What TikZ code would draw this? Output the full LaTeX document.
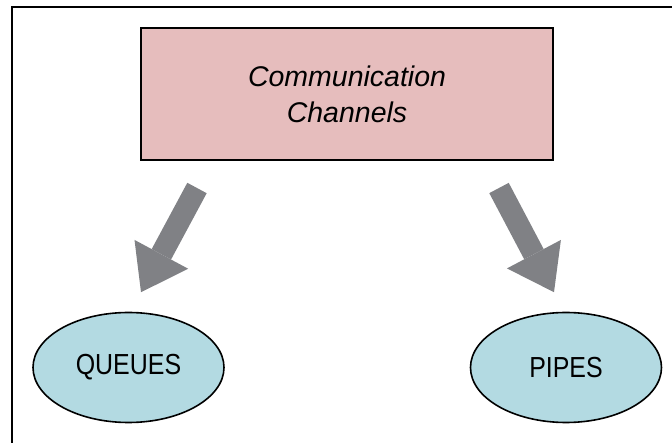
\documentclass[tikz,border=0pt]{standalone}
\usepackage{fontspec}
\setmainfont{Liberation Sans}
\newfontfamily\narrowsans[FakeStretch=0.86]{Liberation Sans}
\usetikzlibrary{arrows.meta,positioning,calc,shapes.geometric}
\definecolor{chanpink}{RGB}{230,189,189}
\definecolor{kindblue}{RGB}{179,218,226}
\definecolor{arrowgray}{RGB}{128,129,133}

\begin{document}
\begin{tikzpicture}[
    topic/.style={draw, line width=2pt, fill=chanpink, minimum width=412pt, minimum height=132pt,
        align=center, font=\fontsize{28.5}{36}\selectfont\itshape},
    kind/.style={draw, ellipse, line width=1.6pt, fill=kindblue, minimum width=191pt,
        minimum height=110pt, inner sep=0pt, font=\narrowsans\fontsize{29}{32}\selectfont},
    fatarrow/.style={arrowgray, line width=22pt, -{Triangle[length=43pt, width=61pt, line width=0pt]}},
    x=1pt, y=-1pt
]
\useasboundingbox (0,0) rectangle (672,443);
% --- Frame (cut off at right and bottom) ---
\draw[line width=2.5pt] (672,7) -- (12,7) -- (12,443);

% --- Nodes ---
\node[topic] (chan)   at (347,94)      {Communication\\Channels};
\node[kind]  (queues) at (128.5,367.5) {QUEUES};
\node[kind]  (pipes)  at (566,367.5)   {PIPES};

% --- Arrow ends ---
\coordinate (qtail) at ($(chan.south)+(-150,27)$);
\coordinate (qtip)  at ($(queues.north)+(12.5,-19.5)$);
\coordinate (ptail) at ($(chan.south)+(152,27)$);
\coordinate (ptip)  at ($(pipes.north)+(-12,-19.5)$);

% --- Arrows ---
\draw[fatarrow] (qtail) -- (qtip);
\draw[fatarrow] (ptail) -- (ptip);

\end{tikzpicture}
\end{document}
